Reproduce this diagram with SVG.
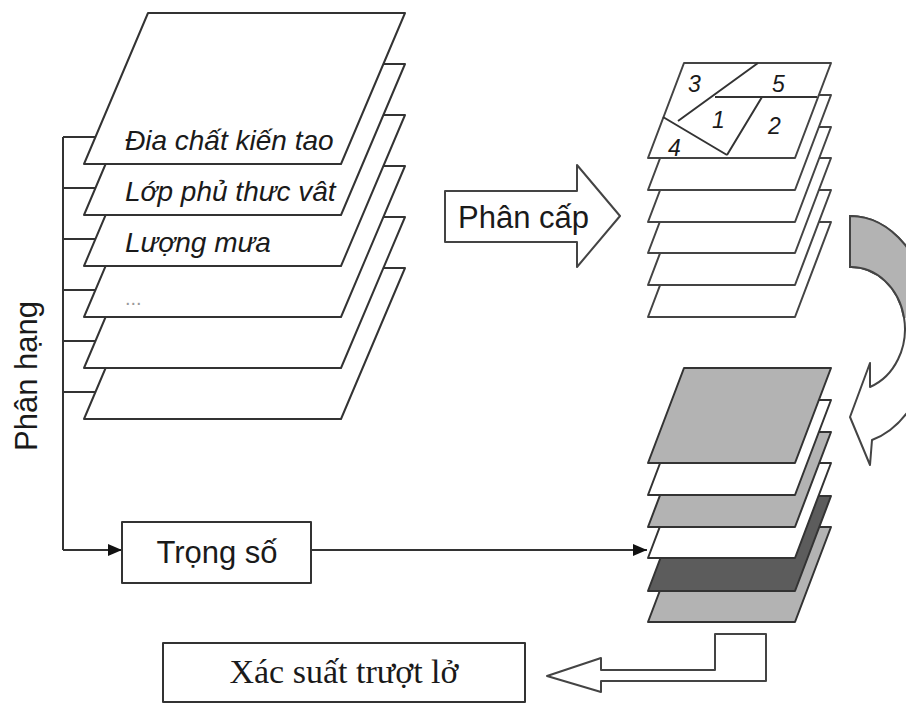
<svg xmlns="http://www.w3.org/2000/svg" xmlns:xlink="http://www.w3.org/1999/xlink" width="906" height="704" viewBox="0 0 906 704">
  <style>
    .ln { fill: none; stroke: #333; stroke-width: 2; }
    .sheet { fill: #fff; stroke: #333; stroke-width: 2; stroke-linejoin: round; }
    .small { fill: #fff; stroke: #444; stroke-width: 2; stroke-linejoin: round; }
    .grey { fill: #b3b3b3; }
    .dark { fill: #5c5c5c; }
    .lbl { font-family: "Liberation Sans", Arial, sans-serif; font-style: italic; font-size: 28px; fill: #1a1a1a; }
    .num { font-family: "Liberation Sans", Arial, sans-serif; font-style: italic; font-size: 23px; fill: #1a1a1a; }
    .txt { font-family: "Liberation Sans", Arial, sans-serif; font-size: 31px; fill: #1a1a1a; }
    .serif { font-family: "Liberation Serif", "Times New Roman", serif; font-size: 34px; fill: #1a1a1a; }
  </style>
  <defs>
    <polygon id="bigSheet" points="148,0 405,0 341,151 84,151"/>
    <polygon id="smallSheet" points="684,0 831,0 795,95 648,95"/>
    <marker id="arr" viewBox="0 0 14 12" refX="14" refY="6" markerWidth="14" markerHeight="12" markerUnits="userSpaceOnUse" orient="auto">
      <path d="M0,0 L14,6 L0,12 Z" fill="#111"/>
    </marker>
    <clipPath id="upperPart"><rect x="800" y="180" width="120" height="138"/></clipPath>
  </defs>

  <!-- connectors: ranking bracket and weight flow -->
  <g id="connectors">
    <path class="ln" d="M63,137 V550"/>
    <path class="ln" d="M63,137 H110 M63,188 H110 M63,239 H110 M63,290 H110 M63,341 H110 M63,392 H110"/>
    <path class="ln" d="M63,550 H122" marker-end="url(#arr)"/>
    <path class="ln" d="M311,550 H647" marker-end="url(#arr)"/>
  </g>

  <!-- input factor layers -->
  <g id="factor-layers">
    <use href="#bigSheet" class="sheet" y="268"/>
    <use href="#bigSheet" class="sheet" y="217"/>
    <use href="#bigSheet" class="sheet" y="166"/>
    <use href="#bigSheet" class="sheet" y="115"/>
    <use href="#bigSheet" class="sheet" y="64"/>
    <use href="#bigSheet" class="sheet" y="13"/>
    <text class="lbl" x="125" y="150">Đia chất kiến tao</text>
    <text class="lbl" x="125" y="201">Lớp phủ thưc vât</text>
    <text class="lbl" x="125" y="252">Lượng mưa</text>
    <text x="125" y="305" font-family="Liberation Sans, Arial, sans-serif" font-size="20" fill="#9a9a9a">...</text>
  </g>

  <!-- side label -->
  <g id="ranking-label">
    <text class="txt" transform="translate(37,376) rotate(-90)" text-anchor="middle">Phân hạng</text>
  </g>

  <!-- classification block arrow -->
  <g id="classify-arrow">
    <path class="small" d="M445,191 H577 V165 L620,216 L577,267 V242 H445 Z"/>
    <text class="txt" x="458" y="228">Phân cấp</text>
  </g>

  <!-- classified layers -->
  <g id="classified-layers">
    <use href="#smallSheet" class="small" y="222"/>
    <use href="#smallSheet" class="small" y="190"/>
    <use href="#smallSheet" class="small" y="158"/>
    <use href="#smallSheet" class="small" y="127"/>
    <use href="#smallSheet" class="small" y="95"/>
    <use href="#smallSheet" class="small" y="63"/>
    <path class="ln" d="M758,63 L678,121 M715,97 H817 M663,117 L727,155 M762,97 L727,155"/>
    <text class="num" x="688" y="92">3</text>
    <text class="num" x="772" y="92">5</text>
    <text class="num" x="712" y="128">1</text>
    <text class="num" x="768" y="134">2</text>
    <text class="num" x="668" y="156">4</text>
  </g>

  <!-- curved transition arrow -->
  <g id="curved-arrow">
    <path d="M850,216 A82,114 0 0 1 872,440 L870,465 L850,417 L870,363 L870,387 A54,62 0 0 0 850,267 Z" fill="#fff" stroke="#444" stroke-width="2" stroke-linejoin="round"/>
    <path d="M850,216 A82,114 0 0 1 872,440 L870,465 L850,417 L870,363 L870,387 A54,62 0 0 0 850,267 Z" class="grey" clip-path="url(#upperPart)" stroke="#444" stroke-width="2"/>
  </g>

  <!-- weighted layers -->
  <g id="weighted-layers">
    <use href="#smallSheet" class="sheet grey" y="527"/>
    <use href="#smallSheet" class="sheet dark" y="496"/>
    <use href="#smallSheet" class="sheet" y="463"/>
    <use href="#smallSheet" class="sheet grey" y="432"/>
    <use href="#smallSheet" class="sheet" y="400"/>
    <use href="#smallSheet" class="sheet grey" y="368"/>
  </g>

  <!-- weights box -->
  <g id="weights">
    <rect class="sheet" x="122" y="522" width="189" height="61"/>
    <text class="txt" x="217" y="563" text-anchor="middle">Trọng số</text>
  </g>

  <!-- output hollow arrow -->
  <g id="output-arrow">
    <path class="small" d="M715,634 H766 V681 H601 V692 L547,676 L601,658 V670 H715 Z"/>
  </g>

  <!-- result box -->
  <g id="result">
    <rect class="sheet" x="163" y="643" width="362" height="59"/>
    <text class="serif" x="344" y="683" text-anchor="middle">Xác suất trượt lở</text>
  </g>
</svg>
